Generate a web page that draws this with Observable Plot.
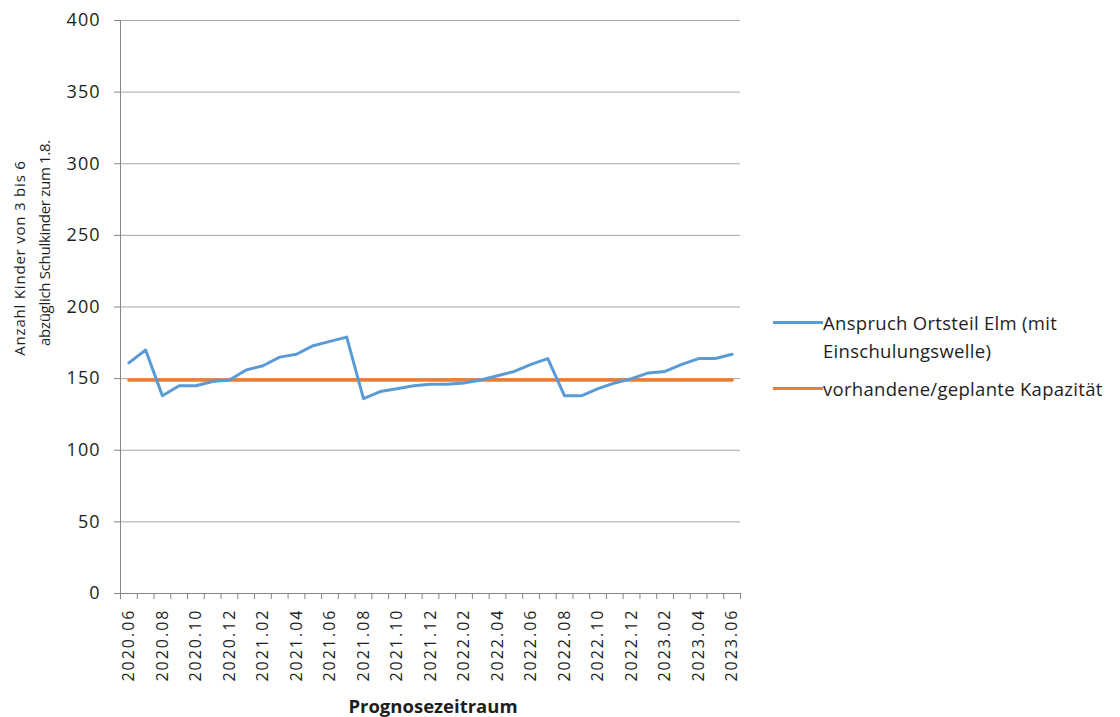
<!DOCTYPE html>
<html>
<head>
<meta charset="utf-8">
<script src="https://cdn.jsdelivr.net/npm/d3@7"></script>
<script src="https://cdn.jsdelivr.net/npm/@observablehq/plot@0.6"></script>
<style>
  html, body { margin: 0; padding: 0; background: white; }
  #wrap { position: relative; width: 1120px; height: 717px; font-family: "Open Sans", sans-serif; color: #1e1e1e; }
  #wrap svg { position: absolute; left: 0; top: 0; }
  .rot { position: absolute; white-space: nowrap; transform: translate(-50%, -50%) rotate(-90deg); font-size: 15px; line-height: 1; }
  .legline { position: absolute; height: 3px; width: 50px; }
  .legtext { position: absolute; white-space: nowrap; font-size: 18.5px; line-height: 28px; letter-spacing: 0.3px; }
  #xtitle { position: absolute; left: 433px; top: 705px; transform: translate(-50%, -50%); font-weight: bold; font-size: 18.5px; white-space: nowrap; color: #1e1e1e; }
  g[aria-label="x-axis tick label"] text { letter-spacing: 2px; }
  g[aria-label="y-axis tick label"] text { letter-spacing: 1px; }
</style>
</head>
<body>
<div id="wrap"></div>
<script>
// Month categories (tick labels)
const months = [
  "2020.06","2020.07","2020.08","2020.09","2020.10","2020.11","2020.12",
  "2021.01","2021.02","2021.03","2021.04","2021.05","2021.06","2021.07","2021.08","2021.09","2021.10","2021.11","2021.12",
  "2022.01","2022.02","2022.03","2022.04","2022.05","2022.06","2022.07","2022.08","2022.09","2022.10","2022.11","2022.12",
  "2023.01","2023.02","2023.03","2023.04","2023.05","2023.06"
];
// Series: Anspruch Ortsteil Elm (mit Einschulungswelle)
const demand = [161,170,138,145,145,148,149,156,159,165,167,173,176,179,136,141,143,145,146,146,147,149,152,155,160,164,138,138,143,147,150,154,155,160,164,164,167];
// Series: vorhandene/geplante Kapazität
const capacity = [149,149,149,149,149,149,149,149,149,149,149,149,149,149,149,149,149,149,149,149,149,149,149,149,149,149,149,149,149,149,149,149,149,149,149,149,149];
const yTicks = [0,50,100,150,200,250,300,350,400];
const seriesNames = ["Anspruch Ortsteil Elm (mit", "Einschulungswelle)", "vorhandene/geplante Kapazität"];
const yTitle = ["Anzahl  Kinder von 3 bis 6", "abzüglich Schulkinder zum 1.8."];
const xTitle = "Prognosezeitraum";

const idx = months.map((m, i) => i);
const boundaries = d3.range(-0.5, months.length, 1);
const labelIdx = idx.filter(i => i % 2 === 0);

const chart = Plot.plot({
  width: 1120,
  height: 717,
  marginLeft: 120,
  marginRight: 380,
  marginTop: 20,
  marginBottom: 124,
  style: { fontFamily: "Open Sans", fontSize: "18px", color: "#1e1e1e", background: "transparent", overflow: "visible" },
  x: { type: "linear", domain: [-0.5, months.length - 0.5] },
  y: { domain: [0, 400] },
  marks: [
    Plot.gridY(yTicks, { stroke: "#a6a6a6", strokeOpacity: 1, strokeWidth: 1 }),
    Plot.frame({ anchor: "left", stroke: "#868686" }),
    Plot.frame({ anchor: "bottom", stroke: "#868686" }),
    Plot.axisY(yTicks, { tickSize: 6, tickPadding: 14, stroke: "#868686", label: null, fill: "#1e1e1e" }),
    Plot.axisX(boundaries, { tickSize: 6, tickFormat: () => "", stroke: "#868686", label: null }),
    Plot.axisX(labelIdx, { tickSize: 0, tickPadding: 15, tickRotate: -90, tickFormat: i => months[i], label: null, fill: "#1e1e1e", fontSize: 16 }),
    Plot.line(capacity, { x: (d, i) => idx[i], y: d => d, stroke: "#ed7d31", strokeWidth: 3.5 }),
    Plot.line(demand, { x: (d, i) => idx[i], y: d => d, stroke: "#5b9bd5", strokeWidth: 3 })
  ]
});

const wrap = document.getElementById("wrap");
wrap.appendChild(chart);

function addDiv(cls, html, css) {
  const d = document.createElement("div");
  d.className = cls;
  d.innerHTML = html;
  Object.assign(d.style, css);
  wrap.appendChild(d);
  return d;
}
addDiv("rot", yTitle[0], { left: "19px", top: "258px", letterSpacing: "0.8px" });
addDiv("rot", yTitle[1], { left: "44px", top: "243px", letterSpacing: "-0.3px" });
addDiv("legline", "", { left: "773px", top: "321px", background: "#5b9bd5" });
addDiv("legtext", seriesNames[0] + "<br>" + seriesNames[1], { left: "823px", top: "309px" });
addDiv("legline", "", { left: "773px", top: "387px", background: "#ed7d31" });
addDiv("legtext", seriesNames[2], { left: "823px", top: "375px" });
const xt = addDiv("", xTitle, {});
xt.id = "xtitle";
</script>
</body>
</html>
